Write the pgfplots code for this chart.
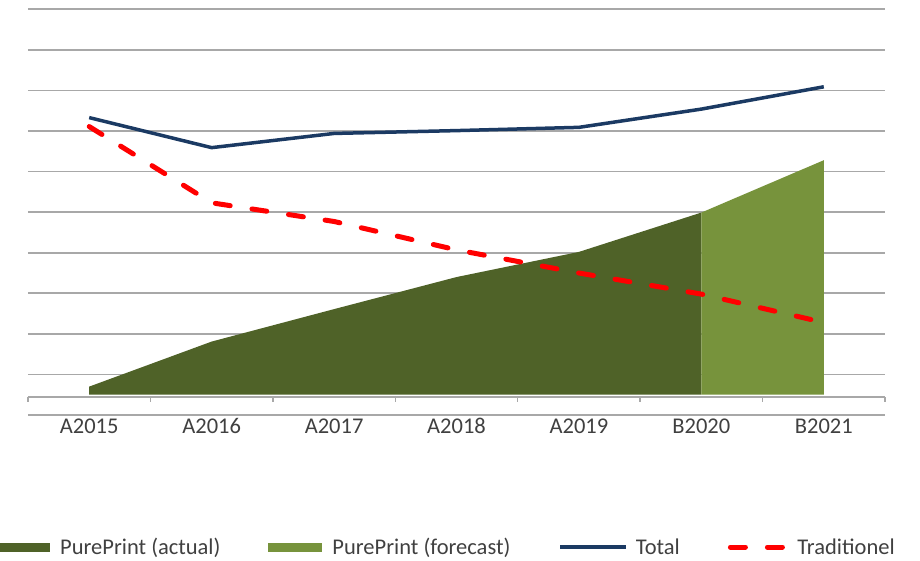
\documentclass[border=0pt]{standalone}
\usepackage{pgfplots}
\pgfplotsset{compat=1.18}
\usepackage{fontspec}
\setmainfont{Carlito}
\definecolor{ppact}{HTML}{4F6228}
\definecolor{ppfor}{HTML}{77933C}
\definecolor{totc}{HTML}{1B3A63}
\definecolor{gridc}{HTML}{A8A8A8}
\definecolor{txtc}{HTML}{404040}
\begin{document}
\begin{tikzpicture}
\path[use as bounding box] (-28bp,-146bp) rectangle (892bp,415bp);
\begin{axis}[
  at={(0bp,0bp)}, anchor=south west,
  scale only axis,
  width=857bp, height=405.7bp,
  xmin=-0.5, xmax=6.5, ymin=0, ymax=10,
  axis x line*=bottom, axis y line*=left,
  y axis line style={draw=none},
  x axis line style={draw=gridc, line width=1.8bp},
  ytick={1,2,...,10}, yticklabels={},
  extra y ticks={0.444}, extra y tick labels={},
  ymajorgrids,
  grid style={draw=gridc, line width=1.8bp},
  major tick length=0pt,
  xtick={0,1,...,6},
  xticklabels={A2015,A2016,A2017,A2018,A2019,B2020,B2021},
  tick label style={font=\fontsize{22.5bp}{27bp}\selectfont, text=txtc, inner sep=0pt, text height=14.5bp, text depth=0pt},
  xticklabel shift=3.5bp,
  extra x ticks={-0.5,0.5,1.5,2.5,3.5,4.5,5.5,6.5},
  extra x tick labels={},
  extra x tick style={major tick length=4.5bp, tick align=inside, tick style={draw=gridc, line width=1.3bp, yshift=13.5bp}},
  clip=false,
  legend columns=4,
  legend style={
    at={(-0.03734,-0.3254)}, anchor=west,
    draw=none, fill=none, inner sep=0pt,
    font=\fontsize{22.5bp}{27bp}\selectfont, text=txtc,
    nodes={inner sep=0pt},
    /tikz/every odd column/.append style={column sep=10bp},
    /tikz/every even column/.append style={column sep=48bp},
  },
  legend cell align=left,
]
\addplot[fill=ppact, draw=none,
  legend image code/.code={\fill[ppact] (0bp,-4.5bp) rectangle (54bp,4.5bp);}]
  coordinates {(0,0.5) (0,0.70) (1,1.81) (2,2.61) (3,3.40) (4,4.02) (5,4.99) (5,0.5)};
\addlegendentry{PurePrint (actual)}
\addplot[fill=ppfor, draw=none,
  legend image code/.code={\fill[ppfor] (0bp,-4.5bp) rectangle (54bp,4.5bp);}]
  coordinates {(5,0.5) (5,4.99) (6,6.28) (6,0.5)};
\addlegendentry{PurePrint (forecast)}
\addplot[draw=totc, line width=3.5bp, line join=round,
  legend image code/.code={\draw[totc, line width=3.5bp] (0bp,0bp) -- (66bp,0bp);}]
  coordinates {(0,7.33) (1,6.59) (2,6.94) (3,7.01) (4,7.09) (5,7.54) (6,8.09)};
\addlegendentry{\kern-2bp Total}
\addplot[draw=red, line width=5bp, line cap=round, dash pattern=on 15bp off 22bp,
  legend image code/.code={\draw[red, line width=5bp, line cap=round, dash pattern=on 15bp off 22bp] (2.5bp,0bp) -- (58bp,0bp);}]
  coordinates {(0,7.11) (1,5.23) (2,4.77) (3,4.07) (4,3.50) (5,2.98) (6,2.28)};
\addlegendentry{\kern-1bp Traditionel}
\end{axis}
\end{tikzpicture}
\end{document}
